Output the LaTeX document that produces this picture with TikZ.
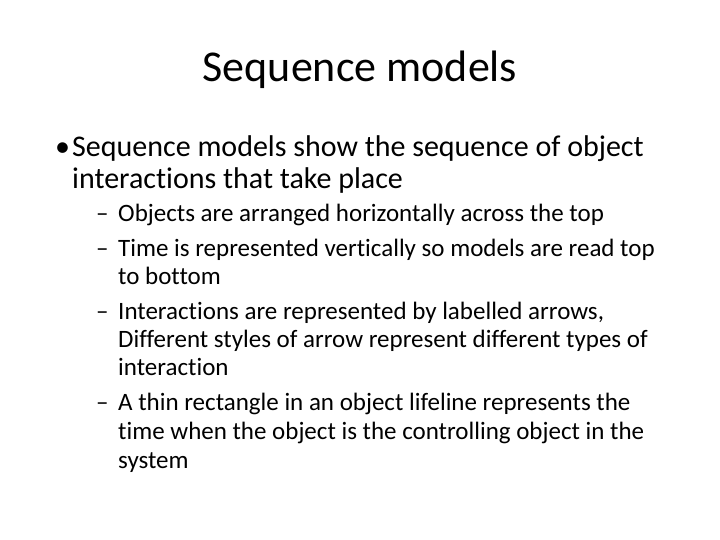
\documentclass[tikz,border=0pt]{standalone}
\usepackage{fontspec}
\setmainfont{Carlito}[Ligatures={NoCommon}]
\begin{document}
\begin{tikzpicture}[x=1pt,y=-1pt,
  ttl/.style={font=\fontsize{44}{48}\selectfont,anchor=base},
  l1/.style={font=\fontsize{30}{34}\selectfont,anchor=base west,inner sep=0},
  l2/.style={font=\fontsize{25}{29}\selectfont,anchor=base west,inner sep=0}]
\useasboundingbox[fill=white] (0,0) rectangle (720,540);
\node[ttl] (t) at (360,82) {Sequence models};
\node[l1] (b0) at (55,157) {•};
\node[l1] (a1) at (72,157) {Sequence models show the sequence of object};
\node[l1] (a2) at (72,189) {interactions that take place};
\foreach \y/\d/\t in {222/1/Objects are arranged horizontally across the top,
  256/1/Time is represented vertically so models are read top,
  284/0/to bottom,
  319/1/{Interactions are represented by labelled arrows,},
  347/0/Different styles of arrow represent different types of,
  375/0/interaction,
  410/1/A thin rectangle in an object lifeline represents the,
  439/0/time when the object is the controlling object in the,
  468/0/system}{
  \node[l2] (s\y) at (118,\y) {\t};
  \ifnum\d=1 \node[l2] (d\y) at (96,\y) {–};\fi
}
\end{tikzpicture}
\end{document}
